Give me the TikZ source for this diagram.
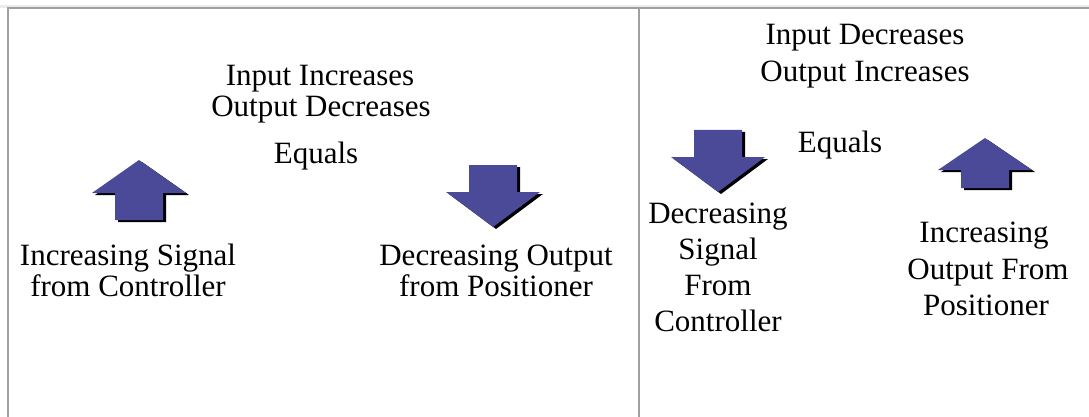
\documentclass[tikz,border=0pt]{standalone}
\usepackage{fontspec}
\setmainfont{Liberation Serif}
\definecolor{arrowblue}{HTML}{4B4A98}
\definecolor{framegray}{HTML}{A0A0A0}
\definecolor{lightband}{HTML}{EBEBEB}
\tikzset{
  lbl/.style={inner sep=0pt, anchor=base, font=\fontsize{31}{36}\selectfont},
  framestyle/.style={draw=framegray, line width=2pt},
  uparrowpic/.pic={
    \fill[black] (3,2) -- (50,35) -- (27,35) -- (27,62) -- (-21,62) -- (-21,35) -- (-44,35) -- cycle;
    \fill[arrowblue] (0,0) -- (47,33) -- (24,33) -- (24,60) -- (-24,60) -- (-24,33) -- (-47,33) -- cycle;
  },
  smalluparrowpic/.pic={
    \fill[black] (3,2) -- (50,34) -- (27,34) -- (27,52) -- (-21,52) -- (-21,34) -- (-44,34) -- cycle;
    \fill[arrowblue] (0,0) -- (47,32) -- (24,32) -- (24,50) -- (-24,50) -- (-24,32) -- (-47,32) -- cycle;
  },
  downarrowpic/.pic={
    \fill[black] (-21,2) -- (27,2) -- (27,29) -- (50,29) -- (3,64) -- (-44,29) -- (-21,29) -- cycle;
    \fill[arrowblue] (-24,0) -- (24,0) -- (24,27) -- (47,27) -- (0,62) -- (-47,27) -- (-24,27) -- cycle;
  }
}
\begin{document}
\begin{tikzpicture}[x=1pt,y=-1pt]
\useasboundingbox[fill=white] (0,0) rectangle (1089,417);
% frame
\fill[lightband] (0,5) rectangle (1089,8);
\coordinate (tl) at (7.5,8.5);
\coordinate (tr) at (1089,8.5);
\coordinate (bl) at (7.5,417);
\coordinate (dt) at (638.5,8.5);
\coordinate (db) at (638.5,417);
\draw[framestyle] (bl) -- (tl) -- (tr);
\draw[framestyle] (dt) -- (db);
% left panel
\node[lbl] (l1) at (320,86) {Input Increases};
\node[lbl] (l2) at (321,117) {Output Decreases};
\node[lbl] (leq) at (316,163) {Equals};
\pic (lup) at (139,160) {uparrowpic};
\pic (ldown) at (493,165) {downarrowpic};
\node[lbl] (lsig1) at (128,265) {Increasing Signal};
\node[lbl] (lsig2) at (128,296) {from Controller};
\node[lbl] (lout1) at (496,265) {Decreasing Output};
\node[lbl] (lout2) at (496,296) {from Positioner};
% right panel
\node[lbl] (r1) at (865,45) {Input Decreases};
\node[lbl] (r2) at (865,82) {Output Increases};
\node[lbl] (req) at (840,153) {Equals};
\pic (rdown) at (718,130) {downarrowpic};
\pic (rup) at (985,138) {smalluparrowpic};
\node[lbl] (rs1) at (718,223) {Decreasing};
\node[lbl] (rs2) at (718,259) {Signal};
\node[lbl] (rs3) at (718,295) {From};
\node[lbl] (rs4) at (718,331) {Controller};
\node[lbl] (ro1) at (984,242) {Increasing};
\node[lbl] (ro2) at (988,279) {Output From};
\node[lbl] (ro3) at (986,315) {Positioner};
\end{tikzpicture}
\end{document}
